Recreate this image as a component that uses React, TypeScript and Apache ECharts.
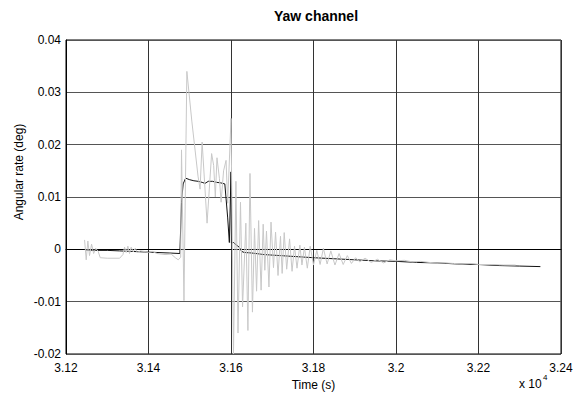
import React, { useEffect, useRef } from "react";
import * as echarts from "echarts";

// time in units of 10^4 s, value in deg
const rawTimes = [3.1245, 3.1249, 3.1253, 3.1257, 3.1262, 3.1267, 3.1272, 3.1278, 3.1283, 3.13, 3.133, 3.1338, 3.1342, 3.1346, 3.135, 3.1354, 3.1358, 3.1363, 3.1368, 3.1373, 3.138, 3.139, 3.14, 3.141, 3.142, 3.144, 3.1455, 3.1465, 3.1472, 3.1478, 3.148, 3.1486, 3.1493, 3.1505, 3.152, 3.1525, 3.153, 3.1542, 3.1553, 3.1558, 3.1562, 3.1566, 3.1572, 3.1576, 3.1582, 3.1588, 3.1592, 3.16, 3.1606, 3.1612, 3.1617, 3.1623, 3.1628, 3.1636, 3.1641, 3.1646, 3.1652, 3.1657, 3.1662, 3.1667, 3.1673, 3.1678, 3.1682, 3.1686, 3.1692, 3.1697, 3.1703, 3.1708, 3.1714, 3.172, 3.1724, 3.1729, 3.1735, 3.1742, 3.1748, 3.1754, 3.176, 3.1767, 3.1772, 3.1778, 3.1785, 3.1792, 3.18, 3.1808, 3.1816, 3.1824, 3.1833, 3.1842, 3.1852, 3.1862, 3.1872, 3.1882, 3.1892, 3.1902, 3.1912, 3.1925, 3.194, 3.1955, 3.197, 3.1985, 3.2, 3.202, 3.204, 3.206, 3.208, 3.21, 3.212, 3.214, 3.216, 3.218, 3.22, 3.223, 3.226, 3.229];
const rawValues = [0.0018, -0.002, 0.0016, -0.0012, 0.001, -0.0008, 0.0002, -0.0004, -0.0016, -0.0017, -0.0017, -0.001, 0.0004, -0.0006, 0.0006, -0.0008, 0.0004, -0.0005, 0.0002, -0.0006, -0.0003, -0.0004, -0.0006, -0.0004, -0.0008, -0.001, -0.0009, -0.0016, -0.002, -0.0015, 0.019, -0.0098, 0.034, 0.0245, 0.014, 0.0115, 0.0205, 0.005, 0.0183, 0.016, 0.01, 0.0175, 0.0135, 0.009, 0.015, 0.017, 0.0088, 0.025, -0.02, 0.013, -0.016, 0.009, -0.011, 0.005, -0.0155, 0.0145, -0.012, 0.004, -0.008, 0.0055, -0.0078, 0.0048, -0.004, 0.0035, -0.0072, 0.0052, -0.0035, 0.0033, -0.005, 0.0025, -0.0046, 0.0032, -0.0038, 0.002, -0.0042, 0.0006, -0.0036, 0.0008, -0.003, 0.0004, -0.0036, 0.0006, -0.003, -0.0002, -0.0029, 0.0002, -0.0028, -0.0003, -0.003, -0.0008, -0.0029, -0.0012, -0.0027, -0.0016, -0.0024, -0.0017, -0.0025, -0.0019, -0.0026, -0.002, -0.0022, -0.0021, -0.0024, -0.0023, -0.0025, -0.0026, -0.0026, -0.0027, -0.0028, -0.0027, -0.0029, -0.0029, -0.003, -0.003];

const filtTimes = [3.1246, 3.127, 3.13, 3.133, 3.136, 3.139, 3.142, 3.145, 3.1476, 3.148, 3.1484, 3.149, 3.15, 3.151, 3.152, 3.153, 3.1537, 3.1545, 3.1555, 3.1565, 3.1575, 3.1585, 3.1592, 3.1596, 3.16, 3.1601, 3.1606, 3.1612, 3.162, 3.1626, 3.1632, 3.165, 3.168, 3.172, 3.176, 3.18, 3.185, 3.19, 3.195, 3.2, 3.205, 3.21, 3.215, 3.22, 3.225, 3.23, 3.235];
const filtValues = [-0.0001, -0.0002, -0.0002, -0.0003, -0.0004, -0.0005, -0.0006, -0.0007, -0.0008, 0.009, 0.0125, 0.0136, 0.0133, 0.0131, 0.013, 0.0128, 0.0126, 0.013, 0.013, 0.0128, 0.0127, 0.0125, 0.006, 0.0013, 0.0148, 0.0012, 0.0013, 0.0009, 0.0004, -0.0004, -0.0006, -0.0007, -0.001, -0.0012, -0.0014, -0.0016, -0.0018, -0.002, -0.0022, -0.0023, -0.0025, -0.0026, -0.0028, -0.0029, -0.0031, -0.0032, -0.0033];

const xTickMin = 31200;
const xTickMax = 32400;
const xTickStep = 200;
const yTickMin = -0.02;
const yTickMax = 0.04;
const yTickStep = 0.01;

const FONT = "Liberation Sans, Arial, sans-serif";

export default function App() {
  const ref = useRef<HTMLDivElement>(null);
  useEffect(() => {
    if (!ref.current) return;
    const chart = echarts.init(ref.current, undefined, { renderer: "svg" });
    const raw = rawTimes.map((t, i) => [Math.round(t * 1e5) / 10, rawValues[i]]);
    const filt = filtTimes.map((t, i) => [Math.round(t * 1e5) / 10, filtValues[i]]);
    chart.setOption({
      animation: false,
      backgroundColor: "#fff",
      title: {
        text: "Yaw channel",
        left: 311,
        top: 4,
        textAlign: "center",
        textStyle: { fontFamily: FONT, fontSize: 14, fontWeight: "bold", color: "#000" },
      },
      grid: {
        left: 66,
        right: 19,
        top: 40,
        bottom: 45,
        show: true,
        borderColor: "#000",
        borderWidth: 1,
        backgroundColor: "transparent",
      },
      xAxis: {
        type: "value",
        min: xTickMin,
        max: xTickMax,
        interval: xTickStep,
        name: "Time (s)",
        nameLocation: "middle",
        nameGap: 25,
        nameTextStyle: { fontFamily: FONT, fontSize: 12, color: "#000" },
        axisLine: { show: true, lineStyle: { color: "#000" } },
        axisTick: { show: false },
        axisLabel: {
          fontFamily: FONT,
          fontSize: 12,
          color: "#000",
          margin: 8,
          formatter: (v: number) => String(+(v / 10000).toFixed(2)),
        },
        splitLine: { show: true, lineStyle: { color: "#333", width: 1 } },
      },
      yAxis: {
        type: "value",
        min: yTickMin,
        max: yTickMax,
        interval: yTickStep,
        axisLine: { show: true, lineStyle: { color: "#000" } },
        axisTick: { show: false },
        axisLabel: {
          fontFamily: FONT,
          fontSize: 12,
          color: "#000",
          margin: 5,
          formatter: (v: number) => String(+v.toFixed(2)),
        },
        splitLine: { show: true, lineStyle: { color: "#555", width: 1 } },
      },
      graphic: [
        {
          type: "text",
          x: 19,
          y: 172,
          rotation: Math.PI / 2,
          style: {
            text: "Angular rate (deg)",
            fontFamily: FONT,
            fontSize: 12,
            fill: "#000",
            align: "center",
            verticalAlign: "middle",
          },
        },
        {
          type: "text",
          left: 519,
          top: 378,
          style: { text: "x 10", fontFamily: FONT, fontSize: 12, fill: "#000" },
        },
        {
          type: "text",
          left: 543,
          top: 373,
          style: { text: "4", fontFamily: FONT, fontSize: 8, fill: "#000" },
        },
      ],
      series: [
        {
          type: "line",
          data: filt,
          showSymbol: false,
          symbol: "none",
          lineStyle: { color: "#111", width: 1 },
          z: 2,
        },
        {
          type: "line",
          data: raw,
          showSymbol: false,
          symbol: "none",
          lineStyle: { color: "#c8c8c8", width: 1 },
          z: 3,
        },
      ],
    });
    return () => chart.dispose();
  }, []);
  return (
    <div
      ref={ref}
      style={{ position: "fixed", left: 0, top: 0, width: 580, height: 399, background: "#fff" }}
    />
  );
}
